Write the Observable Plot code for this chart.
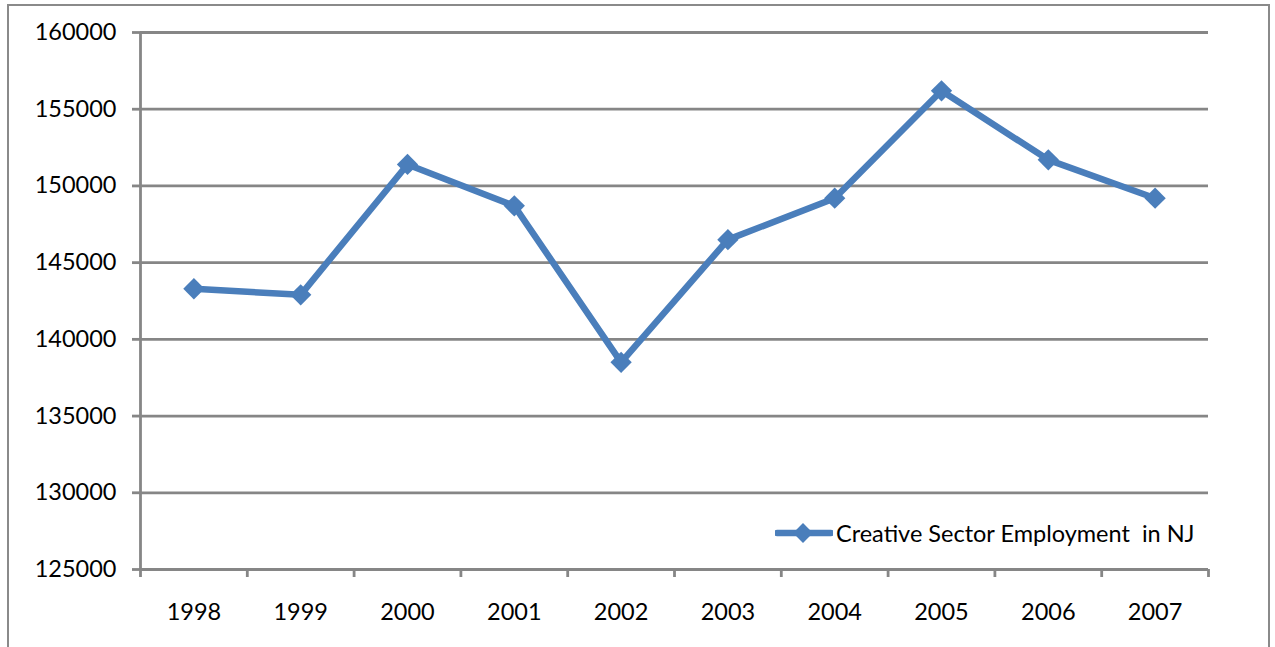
<!DOCTYPE html>
<html>
<head>
<meta charset="utf-8">
<script src="https://cdn.jsdelivr.net/npm/d3@7"></script>
<script src="https://cdn.jsdelivr.net/npm/@observablehq/plot@0.6"></script>
<style>
  html, body { margin: 0; padding: 0; background: #fff; overflow: hidden; }
  #wrap { position: relative; width: 1275px; height: 647px; overflow: hidden; }
  #frame { position: absolute; left: 7px; top: 4px; width: 1263px; height: 700px; border: 2px solid #8a8a8a; box-sizing: border-box; pointer-events: none; }
  #legend { position: absolute; left: 775px; top: 521px; height: 24px; display: flex; align-items: center; font-family: Lato, sans-serif; font-size: 23.5px; color: #000; white-space: pre; }
  #legend svg { display: block; margin-right: 3px; }
</style>
</head>
<body>
<div id="wrap">
  <div id="chart"></div>
  <div id="frame"></div>
  <div id="legend"></div>
</div>
<script>
// Creative sector employment in New Jersey, 1998–2007
const years = [1998, 1999, 2000, 2001, 2002, 2003, 2004, 2005, 2006, 2007];
const employment = [143300, 142900, 151400, 148700, 138500, 146500, 149200, 156200, 151700, 149200];
const yTicks = [125000, 130000, 135000, 140000, 145000, 150000, 155000, 160000];
const seriesLabel = "Creative Sector Employment  in NJ";

const lineColor = "#4a7ebb";
const axisColor = "#868686";

const data = years.map((year, i) => ({year, value: employment[i]}));
// category boundaries: tick marks sit between the years
const boundaries = [years[0] - 0.5, ...years.map(y => y + 0.5)];

const chart = Plot.plot({
  width: 1275,
  height: 647,
  marginLeft: 140,
  marginRight: 67,
  marginTop: 32,
  marginBottom: 78,
  x: {domain: [years[0] - 0.5, years[years.length - 1] + 0.5]},
  y: {domain: [yTicks[0], yTicks[yTicks.length - 1]]},
  style: {fontFamily: "Lato, sans-serif", fontSize: "23.5px", color: "#000", background: "#fff"},
  marks: [
    Plot.gridY(yTicks, {stroke: axisColor, strokeOpacity: 1, strokeWidth: 2.8}),
    Plot.axisY(yTicks, {tickSize: 8, tickPadding: 16, stroke: axisColor, strokeWidth: 2.8, tickFormat: d => String(d), label: null, fontSize: 23.5}),
    Plot.ruleX([boundaries[0]], {stroke: axisColor, strokeWidth: 2.8}),
    Plot.axisX(boundaries, {tickSize: 8, stroke: axisColor, strokeWidth: 2.8, tickFormat: () => "", label: null}),
    Plot.axisX(years, {tickSize: 0, tickPadding: 34, tickFormat: d => String(d), label: null, fontSize: 23.5}),
    Plot.line(data, {x: "year", y: "value", stroke: lineColor, strokeWidth: 6.5, strokeLinejoin: "round"}),
    Plot.dot(data, {x: "year", y: "value", symbol: "square", r: 8.5, rotate: 45, fill: lineColor})
  ]
});
document.getElementById("chart").append(chart);

// legend swatch: line with diamond marker, then the series name
const legend = document.getElementById("legend");
legend.innerHTML =
  `<svg width="58" height="24" viewBox="0 0 58 24">
     <line x1="2" y1="12" x2="56" y2="12" stroke="${lineColor}" stroke-width="6.5" stroke-linecap="round"/>
     <rect x="21" y="5" width="14" height="14" fill="${lineColor}" transform="rotate(45 28 12)"/>
   </svg><span>${seriesLabel}</span>`;
</script>
</body>
</html>
